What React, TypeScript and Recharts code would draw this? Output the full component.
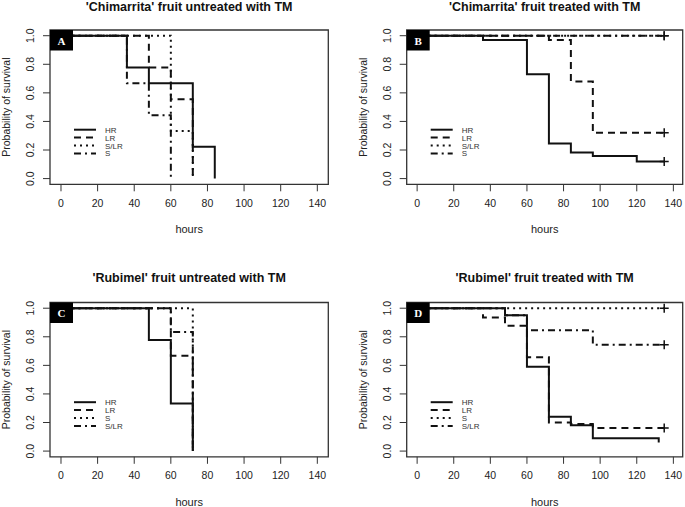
import React from 'react';
import { LineChart, Line, XAxis, YAxis, ReferenceArea } from 'recharts';

const FONT = '"Liberation Sans", Arial, Helvetica, sans-serif';
const HOUR_TICKS = [0, 20, 40, 60, 80, 100, 120, 140];
const SURV_TICKS = [0, 0.2, 0.4, 0.6, 0.8, 1.0];

// A - 'Chimarrita' untreated
const A_HR_T = [0, 36, 48, 72, 84];
const A_HR_S = [1, 0.778, 0.667, 0.222, 0];
const A_LR_T = [0, 48, 60, 72];
const A_LR_S = [1, 0.778, 0.556, 0];
const A_SLR_T = [0, 60, 72];
const A_SLR_S = [1, 0.333, 0];
const A_S_T = [0, 36, 48, 60];
const A_S_S = [1, 0.667, 0.444, 0];

// B - 'Chimarrita' treated
const B_HR_T = [0, 36, 60, 72, 84, 96, 120, 135];
const B_HR_S = [1, 0.97, 0.73, 0.245, 0.183, 0.158, 0.12, 0.12];
const B_LR_T = [0, 72, 84, 96, 135];
const B_LR_S = [1, 0.97, 0.68, 0.32, 0.32];
const B_SLR_T = [0, 135];
const B_SLR_S = [1, 1];
const B_S_T = [0, 135];
const B_S_S = [1, 1];

// C - 'Rubimel' untreated
const C_HR_T = [0, 48, 60, 72];
const C_HR_S = [1, 0.778, 0.333, 0];
const C_LR_T = [0, 60, 72];
const C_LR_S = [1, 0.667, 0];
const C_S_T = [0, 72];
const C_S_S = [1, 0];
const C_SLR_T = [0, 60, 72];
const C_SLR_S = [1, 0.833, 0];

// D - 'Rubimel' treated
const D_HR_T = [0, 48, 60, 72, 84, 96, 132];
const D_HR_S = [1, 0.95, 0.59, 0.24, 0.18, 0.09, 0.06];
const D_LR_T = [0, 36, 48, 60, 72, 84, 96, 135];
const D_LR_S = [1, 0.935, 0.877, 0.657, 0.2, 0.19, 0.162, 0.162];
const D_S_T = [0, 135];
const D_S_S = [1, 1];
const D_SLR_T = [0, 48, 60, 96, 135];
const D_SLR_S = [1, 0.95, 0.845, 0.745, 0.745];

const SOLID = '';
const DASHED = '7 5';
const DOTTED = '2 4';
const DASHDOT = '7 4 2 4';

type Series = { name: string; t: number[]; s: number[]; dash: string; censored: boolean };
type Box = { l: number; r: number; t: number; b: number };

const toRows = (t: number[], s: number[]) => t.map((x, i) => ({ t: x, s: s[i] }));

const AX_H = 30;
const AX_W = 40;

function Panel({ title, letter, left, top, width, height, plot, xDomain, titleY, series }: {
  title: string; letter: string; left: number; top: number; width: number; height: number;
  plot: Box; xDomain: [number, number]; titleY: number; series: Series[];
}) {
  const cx = (plot.l + plot.r) / 2;
  const cy = (plot.t + plot.b) / 2;
  const yLabX = plot.l - 19.5;

  const yTick = (p: any) => (
    <text key={`yt-${p.index}`} x={yLabX} y={p.y} dy="0.35em" textAnchor="middle"
      transform={`rotate(-90, ${yLabX}, ${p.y})`} fontSize={10.5} fill="#222" fontFamily={FONT}>
      {Number(p.payload.value).toFixed(1)}
    </text>
  );

  const plusDot = (n: number) => (p: any) => {
    if (p.index !== n - 1) return <g key={`d-${p.index}`} />;
    return (
      <path key={`d-${p.index}`} d={`M${p.cx - 4.5},${p.cy}H${p.cx + 4.5}M${p.cx},${p.cy - 4.5}V${p.cy + 4.5}`}
        stroke="#111" strokeWidth={1.5} fill="none" />
    );
  };

  return (
    <div style={{ position: 'absolute', left, top, width, height }}>
      <LineChart width={width} height={height}
        margin={{ top: plot.t, left: plot.l - AX_W, right: width - plot.r, bottom: height - plot.b - AX_H }}>
        <XAxis type="number" dataKey="t" domain={xDomain} ticks={HOUR_TICKS} allowDataOverflow
          height={AX_H} axisLine={false} tickSize={7} tickMargin={8}
          tickLine={{ stroke: '#333' }} tick={{ fontSize: 10.5, fill: '#222', fontFamily: FONT }} />
        <YAxis type="number" domain={[-0.04, 1.04]} ticks={SURV_TICKS} allowDataOverflow
          width={AX_W} axisLine={false} tickSize={7} tickLine={{ stroke: '#333' }} tick={yTick} />
        <ReferenceArea x1={xDomain[0]} x2={xDomain[1]} y1={-0.04} y2={1.04}
          fill="none" fillOpacity={0} stroke="#333" strokeWidth={1.3} />
        {[...series].reverse().map((sr) => (
          <Line key={sr.name} data={toRows(sr.t, sr.s)} dataKey="s" type="stepAfter"
            stroke="#111" strokeWidth={2} strokeDasharray={sr.dash || undefined}
            dot={sr.censored ? plusDot(sr.t.length) : false} activeDot={false}
            isAnimationActive={false} />
        ))}
      </LineChart>
      <svg width={width} height={height} style={{ position: 'absolute', left: 0, top: 0, pointerEvents: 'none' }}>
        <text x={cx} y={titleY} textAnchor="middle" fontSize={12.5} fontWeight="bold" fill="#111" fontFamily={FONT}>
          {title}
        </text>
        <text x={cx} y={plot.b + 48.7} textAnchor="middle" fontSize={11} fill="#222" fontFamily={FONT}>hours</text>
        <text x={plot.l - 43.7} y={cy} dy="0.35em" textAnchor="middle" fontSize={10.5} fill="#222" fontFamily={FONT}
          transform={`rotate(-90, ${plot.l - 43.7}, ${cy})`}>Probability of survival</text>
        <rect x={plot.l} y={plot.t} width={23} height={20.5} fill="#000" />
        <text x={plot.l + 11.5} y={plot.t + 14.5} textAnchor="middle" fontSize={11} fontWeight="bold" fill="#fff"
          fontFamily='"Liberation Serif", "DejaVu Serif", serif'>{letter}</text>
        {series.map((sr, i) => {
          const y = plot.t + 99.7 + i * 7.9;
          return (
            <g key={sr.name}>
              <line x1={plot.l + 24} x2={plot.l + 46} y1={y} y2={y} stroke="#111" strokeWidth={2}
                strokeDasharray={sr.dash || undefined} />
              <text x={plot.l + 55} y={y + 3} fontSize={8} fill="#333" fontFamily={FONT}>{sr.name}</text>
            </g>
          );
        })}
      </svg>
    </div>
  );
}

const TOP: Box = { l: 50, r: 328.3, t: 30, b: 184.3 };
const TOP_B: Box = { l: 66.7, r: 342.7, t: 30, b: 184.3 };
const BOT: Box = { l: 50, r: 328.3, t: 47.5, b: 201.8 };
const BOT_B: Box = { l: 66.7, r: 342.7, t: 47.5, b: 201.8 };

export default function App() {
  return (
    <div style={{ position: 'absolute', left: 0, top: 0, width: 685, height: 507, background: '#fff', overflow: 'hidden' }}>
      <Panel title="'Chimarrita' fruit untreated with TM" letter="A" left={0} top={0} width={340} height={255}
        plot={TOP} xDomain={[-6, 146]} titleY={11}
        series={[
          { name: 'HR', t: A_HR_T, s: A_HR_S, dash: SOLID, censored: false },
          { name: 'LR', t: A_LR_T, s: A_LR_S, dash: DASHED, censored: false },
          { name: 'S/LR', t: A_SLR_T, s: A_SLR_S, dash: DOTTED, censored: false },
          { name: 'S', t: A_S_T, s: A_S_S, dash: DASHDOT, censored: false },
        ]} />
      <Panel title="'Chimarrita' fruit treated with TM" letter="B" left={340} top={0} width={345} height={255}
        plot={TOP_B} xDomain={[-5.7, 145.1]} titleY={11}
        series={[
          { name: 'HR', t: B_HR_T, s: B_HR_S, dash: SOLID, censored: true },
          { name: 'LR', t: B_LR_T, s: B_LR_S, dash: DASHED, censored: true },
          { name: 'S/LR', t: B_SLR_T, s: B_SLR_S, dash: DOTTED, censored: true },
          { name: 'S', t: B_S_T, s: B_S_S, dash: DASHDOT, censored: true },
        ]} />
      <Panel title="'Rubimel' fruit untreated with TM" letter="C" left={0} top={255} width={340} height={252}
        plot={BOT} xDomain={[-6, 146]} titleY={27.3}
        series={[
          { name: 'HR', t: C_HR_T, s: C_HR_S, dash: SOLID, censored: false },
          { name: 'LR', t: C_LR_T, s: C_LR_S, dash: DASHED, censored: false },
          { name: 'S', t: C_S_T, s: C_S_S, dash: DOTTED, censored: false },
          { name: 'S/LR', t: C_SLR_T, s: C_SLR_S, dash: DASHDOT, censored: false },
        ]} />
      <Panel title="'Rubimel' fruit treated with TM" letter="D" left={340} top={255} width={345} height={252}
        plot={BOT_B} xDomain={[-5.7, 145.1]} titleY={27.3}
        series={[
          { name: 'HR', t: D_HR_T, s: D_HR_S, dash: SOLID, censored: false },
          { name: 'LR', t: D_LR_T, s: D_LR_S, dash: DASHED, censored: true },
          { name: 'S', t: D_S_T, s: D_S_S, dash: DOTTED, censored: true },
          { name: 'S/LR', t: D_SLR_T, s: D_SLR_S, dash: DASHDOT, censored: true },
        ]} />
    </div>
  );
}
